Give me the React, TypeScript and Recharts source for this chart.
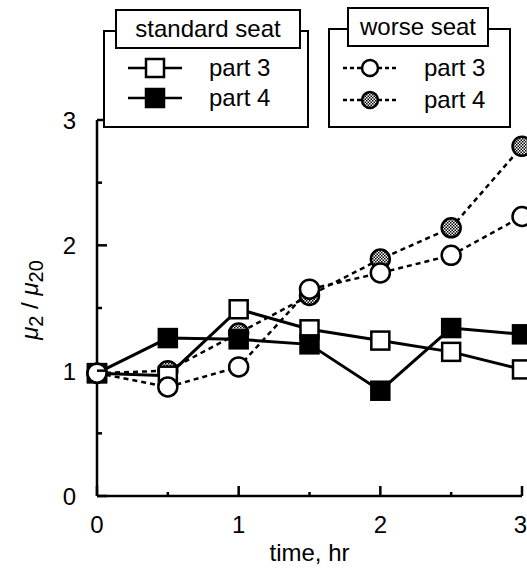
import { LineChart, Line, XAxis, YAxis } from 'recharts'

const times = [0, 0.5, 1, 1.5, 2, 2.5, 3]
const stdPart3 = [0.98, 0.96, 1.49, 1.33, 1.24, 1.15, 1.01]
const stdPart4 = [0.98, 1.26, 1.25, 1.21, 0.84, 1.34, 1.29]
const worsePart3 = [0.98, 0.87, 1.03, 1.65, 1.78, 1.92, 2.23]
const worsePart4 = [0.98, 1.0, 1.3, 1.6, 1.89, 2.14, 2.79]
const xTicks = [0, 0.5, 1, 1.5, 2, 2.5, 3]
const yTicks = [0, 0.5, 1, 1.5, 2, 2.5, 3]

const data = times.map((t, i) => ({
  t,
  s3: stdPart3[i],
  s4: stdPart4[i],
  w3: worsePart3[i],
  w4: worsePart4[i],
}))

const FONT = "'Liberation Sans', Arial, Helvetica, sans-serif"

// eslint-disable-next-line @typescript-eslint/no-explicit-any
function XTick({ x, y, payload }: any) {
  const v = payload.value as number
  const major = Number.isInteger(v)
  const last = v === 3
  return (
    <g>
      <line x1={x} x2={x} y1={y} y2={y - (major ? 10 : 4)} stroke="#000" strokeWidth={2.5} />
      {major && (
        <text x={last ? x + 5 : x} y={y + 37} textAnchor={last ? 'end' : 'middle'}
          fontFamily={FONT} fontSize={24} fill="#000">{v}</text>
      )}
    </g>
  )
}

// eslint-disable-next-line @typescript-eslint/no-explicit-any
function YTick({ x, y, payload }: any) {
  const v = payload.value as number
  const major = Number.isInteger(v)
  return (
    <g>
      <line x1={x} x2={x + (major ? 10 : 5)} y1={y} y2={y} stroke="#000" strokeWidth={2.5} />
      {major && (
        <text x={x - 21} y={y + 9} textAnchor="end" fontFamily={FONT} fontSize={24} fill="#000">{v}</text>
      )}
    </g>
  )
}

// eslint-disable-next-line @typescript-eslint/no-explicit-any
const square = (fill: string) => (p: any) => (
  <rect key={p.index} x={p.cx - 9} y={p.cy - 9} width={18} height={18} fill={fill} stroke="#000" strokeWidth={2.5} />
)
// eslint-disable-next-line @typescript-eslint/no-explicit-any
const circle = (fill: string) => (p: any) => (
  <circle key={p.index} cx={p.cx} cy={p.cy} r={9.5} fill={fill} stroke="#000" strokeWidth={2.5} />
)

function Pattern({ id }: { id: string }) {
  return (
    <pattern id={id} width={3} height={3} patternUnits="userSpaceOnUse">
      <rect width={3} height={3} fill="#fff" />
      <rect width={1.5} height={1.5} fill="#000" />
      <rect x={1.5} y={1.5} width={1.5} height={1.5} fill="#000" />
    </pattern>
  )
}

function LegendRow({ top, left, kind, label }: { top: number; left: number; kind: string; label: string }) {
  const dashed = kind === 'w3' || kind === 'w4'
  return (
    <div style={{ position: 'absolute', top, left, display: 'flex', alignItems: 'center', height: 30 }}>
      <svg width={56} height={24}>
        <defs><Pattern id={`lp-${kind}`} /></defs>
        <line x1={1} x2={55} y1={12} y2={12} stroke="#000" strokeWidth={2.5} strokeDasharray={dashed ? '4 3' : undefined} />
        {kind === 's3' && <rect x={19} y={3} width={18} height={18} fill="#fff" stroke="#000" strokeWidth={2.5} />}
        {kind === 's4' && <rect x={19} y={3} width={18} height={18} fill="#000" stroke="#000" strokeWidth={2.5} />}
        {kind === 'w3' && <circle cx={28} cy={12} r={8} fill="#fff" stroke="#000" strokeWidth={2.5} />}
        {kind === 'w4' && <circle cx={28} cy={12} r={8} fill={`url(#lp-${kind})`} stroke="#000" strokeWidth={2.5} />}
      </svg>
      <span style={{ marginLeft: 26, fontFamily: FONT, fontSize: 24, lineHeight: '30px' }}>{label}</span>
    </div>
  )
}

function LegendBox({ left, top, width, height, title, titleLeft, titleWidth, children }: {
  left: number; top: number; width: number; height: number; title: string
  titleLeft: number; titleWidth: number; children: React.ReactNode
}) {
  return (
    <>
      <div style={{
        position: 'absolute', left, top, width, height, border: '2px solid #000',
        boxSizing: 'border-box', background: '#fff',
      }} />
      <div style={{
        position: 'absolute', left: titleLeft, top: top - 21, width: titleWidth, height: 40,
        border: '2px solid #000', boxSizing: 'border-box', background: '#fff',
        fontFamily: FONT, fontSize: 24, textAlign: 'center', lineHeight: '36px',
      }}>{title}</div>
      {children}
    </>
  )
}

export default function App() {
  return (
    <div style={{ position: 'absolute', left: 0, top: 0, width: 527, height: 569, background: '#fff', overflow: 'hidden' }}>
      <LineChart width={527} height={569} data={data} margin={{ top: 120, right: 5, left: 0, bottom: 0 }}>
        <defs><Pattern id="dots" /></defs>
        <XAxis
          dataKey="t" type="number" domain={[0, 3]} ticks={xTicks}
          height={73} tickSize={0} tickMargin={0} tickLine={false}
          axisLine={{ stroke: '#000', strokeWidth: 2.5 }}
          tick={<XTick />} interval={0}
          label={{ value: 'time, hr', position: 'insideBottom', offset: 8, fontFamily: FONT, fontSize: 24, fill: '#000' }}
        />
        <YAxis
          type="number" domain={[0, 3]} ticks={yTicks}
          width={97} tickSize={0} tickMargin={0} tickLine={false}
          axisLine={{ stroke: '#000', strokeWidth: 2.5 }}
          tick={<YTick />} interval={0}
        />
        <Line dataKey="w4" type="linear" stroke="#000" strokeWidth={2.5} strokeDasharray="5 4"
          dot={circle('url(#dots)')} activeDot={false} isAnimationActive={false} />
        <Line dataKey="s3" type="linear" stroke="#000" strokeWidth={3}
          dot={square('#fff')} activeDot={false} isAnimationActive={false} />
        <Line dataKey="s4" type="linear" stroke="#000" strokeWidth={3}
          dot={square('#000')} activeDot={false} isAnimationActive={false} />
        <Line dataKey="w3" type="linear" stroke="#000" strokeWidth={2.5} strokeDasharray="5 4"
          dot={circle('#fff')} activeDot={false} isAnimationActive={false} />
      </LineChart>

      <div style={{
        position: 'absolute', left: 32, top: 300, transform: 'translate(-50%, -50%) rotate(-90deg)',
        fontFamily: FONT, fontSize: 24, whiteSpace: 'nowrap',
      }}>
        <i>μ</i><sub style={{ fontSize: 20 }}>2</sub> / <i>μ</i><sub style={{ fontSize: 20 }}>20</sub>
      </div>

      <LegendBox left={103} top={30} width={206} height={98} title="standard seat" titleLeft={115} titleWidth={186}>
        <LegendRow top={53} left={127} kind="s3" label="part 3" />
        <LegendRow top={83} left={127} kind="s4" label="part 4" />
      </LegendBox>
      <LegendBox left={328} top={28} width={183} height={100} title="worse seat" titleLeft={347} titleWidth={142}>
        <LegendRow top={53} left={342} kind="w3" label="part 3" />
        <LegendRow top={85} left={342} kind="w4" label="part 4" />
      </LegendBox>
    </div>
  )
}
